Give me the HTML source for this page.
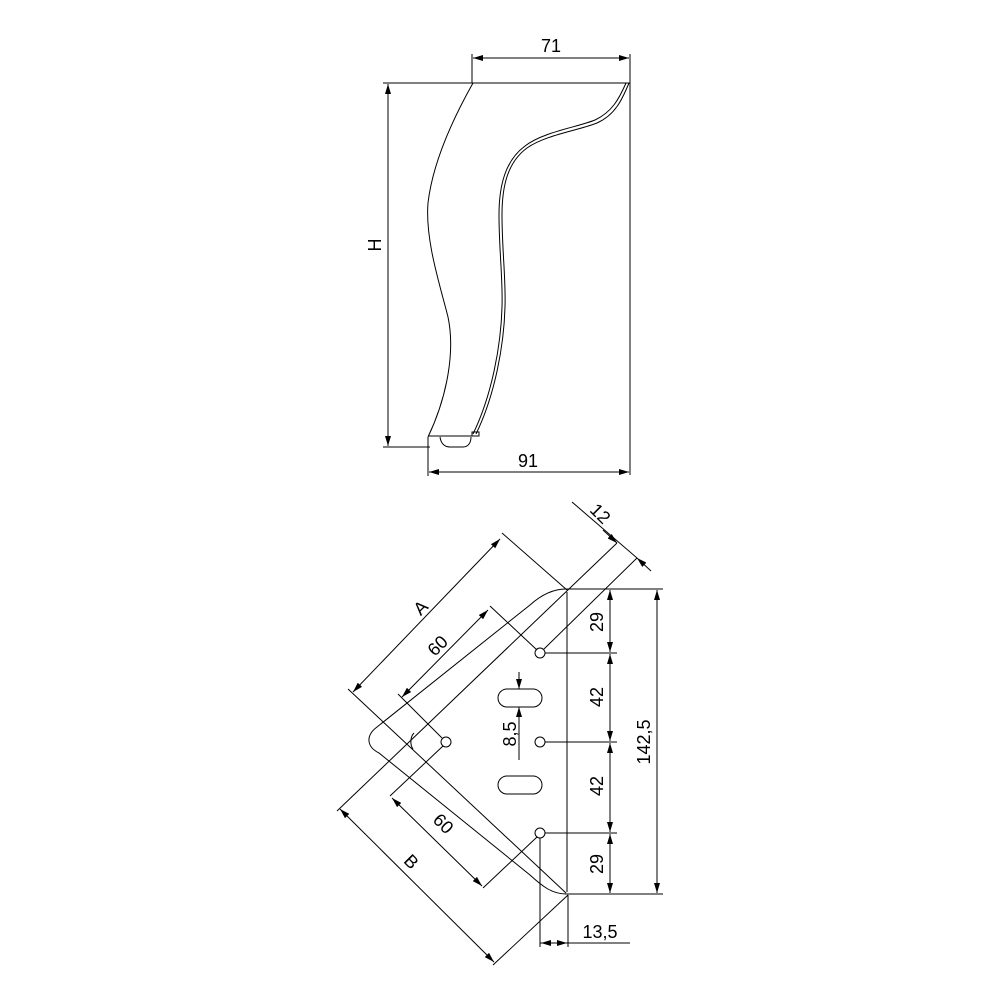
<!DOCTYPE html>
<html><head><style>body{margin:0;background:#fff}svg{display:block}</style></head>
<body>
<svg width="1000" height="1000" viewBox="0 0 1000 1000" xmlns="http://www.w3.org/2000/svg">
<defs>
<marker id="ar" viewBox="0 0 10 6" refX="10" refY="3" markerWidth="10" markerHeight="6" markerUnits="userSpaceOnUse" orient="auto-start-reverse">
<path d="M0,0 L10,3 L0,6 Z" fill="#000"/></marker>
</defs>
<g fill="none" stroke="#000" stroke-width="1">
<line x1="383" y1="83" x2="630" y2="83"/>
<line x1="383" y1="447" x2="430" y2="447"/>
<line x1="388" y1="84" x2="388" y2="446" marker-start="url(#ar)" marker-end="url(#ar)"/>
<line x1="472" y1="54" x2="472" y2="83"/>
<line x1="630" y1="54" x2="630" y2="475"/>
<line x1="473" y1="58" x2="629" y2="58" marker-start="url(#ar)" marker-end="url(#ar)"/>
<line x1="428" y1="437" x2="428" y2="476"/>
<line x1="429" y1="472" x2="629" y2="472" marker-start="url(#ar)" marker-end="url(#ar)"/>
<path d="M473,83 C455,115 433,160 428,203 C425,240 440,285 448,317 C455,350 448,395 428,437"/>
<path d="M629,83 C622,100 615,115 597,123 C580,130 545,135 527,148 C508,162 502,185 502,215 C502,250 506,280 505,307 C504,345 495,395 476,434"/>
<path d="M626,83 C619,99 612,112 595,120 C578,127 543,132 525,146 C506,160 499,184 499,215 C499,250 503,280 502,307 C501,345 492,395 473,434"/>
<line x1="428" y1="436" x2="478" y2="436"/>
<rect x="472" y="432" width="7" height="4"/>
<path d="M440,437 C441,444 445,447 450,447 L463,447 C468,447 471,443 471,437"/>
</g>
<g font-family="Liberation Sans, sans-serif" font-size="18" fill="#000">
<text x="551" y="52" text-anchor="middle">71</text>
<text x="528" y="467" text-anchor="middle">91</text>
<text transform="translate(381,245) rotate(-90)" text-anchor="middle">H</text>
</g>

<g fill="none" stroke="#000" stroke-width="1">
<path d="M566,589 C552,589 540,596 530,605 L377,727 C365,736 367,747 379,753 L530,875 C542,886 552,894 566,894"/>
<line x1="567" y1="592" x2="567" y2="892"/>
<line x1="566" y1="589" x2="663" y2="589"/>
<line x1="566" y1="894" x2="663" y2="894"/>
<path d="M414,733 C410,737 410,745 413,749"/>
<line x1="617" y1="543" x2="337" y2="811"/>
<line x1="502" y1="533" x2="567" y2="590"/>
<line x1="348" y1="689" x2="566" y2="893"/>
<line x1="568" y1="895" x2="493" y2="965"/>
<line x1="572" y1="502" x2="637" y2="558"/>
<line x1="637" y1="558" x2="544" y2="649"/>
<line x1="490" y1="606" x2="537" y2="650"/>
<line x1="398" y1="694" x2="442" y2="738"/>
<line x1="390" y1="796" x2="443" y2="746"/>
<line x1="483" y1="888" x2="537" y2="837"/>
<circle cx="540" cy="653" r="5"/>
<circle cx="540" cy="742" r="5"/>
<circle cx="540" cy="833" r="5"/>
<circle cx="446" cy="742" r="5"/>
<rect x="498" y="689" width="44" height="18" rx="9"/>
<rect x="498" y="776" width="44" height="18" rx="9"/>
<line x1="500" y1="539" x2="353" y2="692" marker-start="url(#ar)" marker-end="url(#ar)"/>
<line x1="340" y1="809" x2="494" y2="962" marker-start="url(#ar)" marker-end="url(#ar)"/>
<line x1="488" y1="610" x2="402" y2="697" marker-start="url(#ar)" marker-end="url(#ar)"/>
<line x1="392" y1="798" x2="482" y2="886" marker-start="url(#ar)" marker-end="url(#ar)"/>
<line x1="603" y1="530" x2="617" y2="543" marker-end="url(#ar)"/>
<line x1="651" y1="571" x2="637" y2="558" marker-end="url(#ar)"/>
<line x1="610" y1="590" x2="610" y2="652" marker-start="url(#ar)" marker-end="url(#ar)"/>
<line x1="610" y1="654" x2="610" y2="741" marker-start="url(#ar)" marker-end="url(#ar)"/>
<line x1="610" y1="743" x2="610" y2="832" marker-start="url(#ar)" marker-end="url(#ar)"/>
<line x1="610" y1="834" x2="610" y2="893" marker-start="url(#ar)" marker-end="url(#ar)"/>
<line x1="657" y1="590" x2="657" y2="893" marker-start="url(#ar)" marker-end="url(#ar)"/>
<line x1="545" y1="653" x2="617" y2="653"/>
<line x1="545" y1="742" x2="617" y2="742"/>
<line x1="545" y1="833" x2="617" y2="833"/>
<line x1="519" y1="672" x2="519" y2="689" marker-end="url(#ar)"/>
<line x1="519" y1="760" x2="519" y2="707" marker-end="url(#ar)"/>
<line x1="540" y1="838" x2="540" y2="947"/>
<line x1="568" y1="895" x2="568" y2="947"/>
<line x1="540" y1="943" x2="630" y2="943"/>
<line x1="556" y1="943" x2="541" y2="943" marker-end="url(#ar)"/>
<line x1="552" y1="943" x2="567" y2="943" marker-end="url(#ar)"/>
</g>
<g font-family="Liberation Sans, sans-serif" font-size="18" fill="#000" text-anchor="middle">
<text transform="translate(425,612) rotate(-45)">A</text>
<text transform="translate(442,650) rotate(-45)">60</text>
<text transform="translate(407,866) rotate(45)">B</text>
<text transform="translate(439,828) rotate(45)">60</text>
<text transform="translate(596,518) rotate(45)">12</text>
<text transform="translate(603,622) rotate(-90)">29</text>
<text transform="translate(603,697) rotate(-90)">42</text>
<text transform="translate(603,786) rotate(-90)">42</text>
<text transform="translate(603,864) rotate(-90)">29</text>
<text transform="translate(650,742) rotate(-90)">142,5</text>
<text transform="translate(516,734) rotate(-90)">8,5</text>
<text x="600" y="938">13,5</text>
</g>
</svg>
</body></html>
